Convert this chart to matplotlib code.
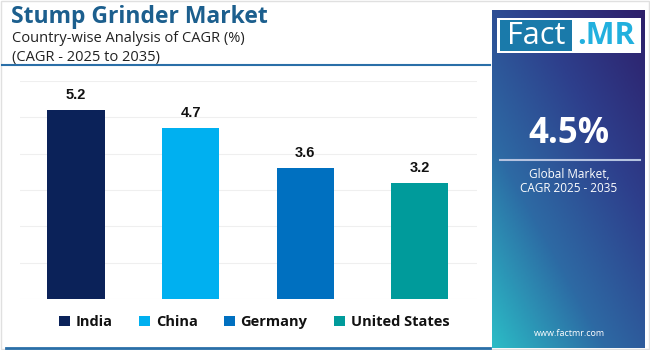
import numpy as np
import matplotlib.pyplot as plt
from matplotlib.patches import Patch, Rectangle
from matplotlib.colors import LinearSegmentedColormap

countries = ["India", "China", "Germany", "United States"]
cagr = [5.2, 4.7, 3.6, 3.2]
bar_colors = ["#0b2259", "#00b0f0", "#0070c0", "#009b9b"]
global_cagr = "4.5%"

W, H = 650, 350
fig = plt.figure(figsize=(6.5, 3.5), dpi=100)
fig.patch.set_facecolor("white")

def fx(px):
    return px / W

def fy(py):
    return 1 - py / H

# outer light border
fig.patches.append(Rectangle((fx(1), fy(349)), fx(648), 348 / H, transform=fig.transFigure,
                             fill=False, edgecolor="#e0e0e0", linewidth=1))

# header text
fig.text(fx(11), fy(17), "Stump Grinder Market", fontsize=16.5, fontweight="bold",
         color="#1c5f8e", family="Open Sans", va="center")
fig.text(fx(12), fy(39), "Country-wise Analysis of CAGR (%)", fontsize=10.5,
         color="#222222", family="Open Sans", va="center")
fig.text(fx(12), fy(57), "(CAGR - 2025 to 2035)", fontsize=10.5,
         color="#222222", family="Open Sans", va="center")
fig.add_artist(plt.Line2D([fx(2), fx(490)], [fy(65), fy(65)], color="#2a6fa8", linewidth=1.5))
fig.add_artist(plt.Line2D([fx(6), fx(490)], [fy(348), fy(348)], color="#2a6fa8", linewidth=2))

# bar chart
ax = fig.add_axes([fx(20), fy(299), fx(457), (299 - 81) / H])
x = np.arange(len(countries))
ax.bar(x, cagr, width=0.5, color=bar_colors, zorder=3)
for xi, v in zip(x, cagr):
    ax.text(xi, v + 0.22, f"{v}", ha="center", va="bottom", fontsize=10.5,
            fontweight="bold", color="#111111", family="Liberation Sans")
ax.set_ylim(0, 6)
ax.set_xlim(-0.49, 3.5)
ax.set_yticks(range(0, 7))
ax.grid(axis="y", color="#efefef", linewidth=0.8, zorder=0)
ax.tick_params(left=False, bottom=False, labelleft=False, labelbottom=False)
for s in ax.spines.values():
    s.set_visible(False)

handles = [Patch(facecolor=c, edgecolor="none") for c in bar_colors]
leg = fig.legend(handles, countries, loc="center", bbox_to_anchor=(fx(254), fy(322)),
                 ncol=4, frameon=False, handlelength=0.75, handleheight=0.75,
                 columnspacing=1.8, handletextpad=0.4,
                 prop={"family": "Open Sans", "weight": "bold", "size": 10.5})
for t in leg.get_texts():
    t.set_color("#111111")

# right side panel with gradient
pan = fig.add_axes([fx(492), fy(348), fx(153), (348 - 10) / H])
gx, gy = np.meshgrid(np.linspace(0, 1, 100), np.linspace(0, 1, 200))
grad = (gx * 0.45 + gy * 0.55)
cmap = LinearSegmentedColormap.from_list("panel", ["#2bbcc6", "#2d6aa4", "#2e3f8c", "#2d1f6a"])
pan.imshow(grad, cmap=cmap, aspect="auto", origin="lower", extent=[0, 1, 0, 1])
pan.set_xlim(0, 1)
pan.set_ylim(0, 1)
pan.axis("off")

# logo
fig.patches.append(Rectangle((fx(497), fy(53)), fx(144), 35 / H, transform=fig.transFigure,
                             facecolor="white", edgecolor="none", zorder=5))
fig.patches.append(Rectangle((fx(500), fy(51)), fx(72), 31 / H, transform=fig.transFigure,
                             facecolor="#1a7aaa", edgecolor="none", zorder=6))
fig.text(fx(536), fy(36), "Fact", fontsize=22, color="white", family="Open Sans",
         ha="center", va="center", zorder=7)
fig.text(fx(606), fy(36), ".MR", fontsize=22, color="#22b0de", family="Open Sans",
         fontweight="bold", ha="center", va="center", zorder=7)

fig.text(fx(569), fy(134), global_cagr, fontsize=25, fontweight="bold", color="white",
         family="Open Sans", ha="center", va="center")
fig.add_artist(plt.Line2D([fx(500), fx(640)], [fy(160), fy(160)], color="#b5c3e0", linewidth=1.5))
fig.text(fx(569), fy(175), "Global Market,", fontsize=8.5, color="white",
         family="Open Sans", ha="center", va="center")
fig.text(fx(569), fy(189), "CAGR 2025 - 2035", fontsize=8.5, color="white",
         family="Open Sans", ha="center", va="center")
fig.text(fx(569), fy(333), "www.factmr.com", fontsize=6.5, color="white",
         family="Open Sans", ha="center", va="center")

fig.savefig("out.png", dpi=100)
